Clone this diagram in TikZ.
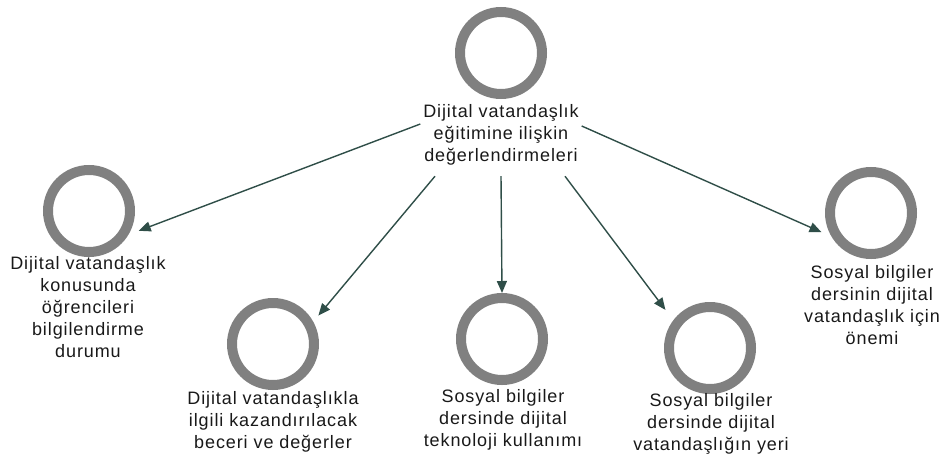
\documentclass[tikz,border=0pt]{standalone}
\usepackage{fontspec}
\setmainfont{Liberation Sans}[LetterSpace=5]
\usetikzlibrary{arrows.meta}
\definecolor{ringgray}{RGB}{128,128,128}
\definecolor{arrowteal}{RGB}{47,78,72}
\definecolor{labelink}{RGB}{25,25,25}
\begin{document}
\begin{tikzpicture}[x=1pt,y=-1pt,
  ring/.style={circle, draw=ringgray, line width=10pt, minimum size=82pt, inner sep=0pt},
  lbl/.style={align=center, text=labelink, font=\fontsize{18}{22}\selectfont, inner sep=0pt},
  conn/.style={draw=arrowteal, line width=1.4pt, -{Triangle[length=12pt,width=10pt]}},
]
\useasboundingbox (0,0) rectangle (941,461);

% central topic
\node[ring] (c0) at (501,53) {};
\node[lbl, minimum width=161pt, minimum height=82pt] (t0) at (501,135)
  {Dijital vatandaşlık\\eğitimine ilişkin\\değerlendirmeleri};

% sub-topics
\node[ring] (c1) at (89,211) {};
\node[lbl] (t1) at (88,307)
  {Dijital vatandaşlık\\konusunda\\öğrencileri\\bilgilendirme\\durumu};

\node[ring] (c2) at (273,344) {};
\node[lbl] (t2) at (273,422)
  {Dijital vatandaşlıkla\\ilgili kazandırılacak\\beceri ve değerler};

\node[ring] (c3) at (502,339) {};
\node[lbl] (t3) at (503,420)
  {Sosyal bilgiler\\dersinde dijital\\teknoloji kullanımı};

\node[ring] (c4) at (710,348) {};
\node[lbl] (t4) at (711,424)
  {Sosyal bilgiler\\dersinde dijital\\vatandaşlığın yeri};

\node[ring] (c5) at (871,213) {};
\node[lbl] (t5) at (872,305)
  {Sosyal bilgiler\\dersinin dijital\\vatandaşlık için\\önemi};

% connectors from the central label to each sub-topic
\draw[conn, shorten >=11pt] ([yshift=11pt]t0.west) -- (c1.-31);
\draw[conn, shorten >=8pt] ([xshift=-66pt]t0.south) -- (c2.29);
\draw[conn] (t0.south) -- (c3.north);
\draw[conn, shorten >=13pt] ([xshift=64pt]t0.south) -- (c4.143);
\draw[conn, shorten >=11pt] ([yshift=9pt]t0.east) -- (c5.-149);
\end{tikzpicture}
\end{document}
